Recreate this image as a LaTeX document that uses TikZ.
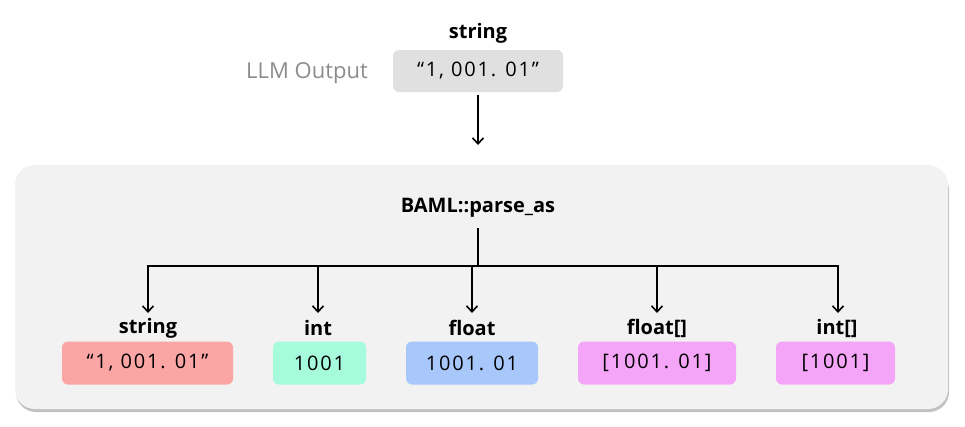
\documentclass[tikz,border=0pt]{standalone}
\usepackage{fontspec}
\setmainfont{Open Sans}
\newfontfamily\codefont[LetterSpace=9]{Open Sans}
\usetikzlibrary{arrows.meta,shadows}
\definecolor{panelbg}{HTML}{F2F2F2}
\definecolor{topbox}{HTML}{E0E0E0}
\definecolor{redbox}{HTML}{FCA5A5}
\definecolor{greenbox}{HTML}{A7FBDD}
\definecolor{bluebox}{HTML}{A8C8FC}
\definecolor{pinkbox}{HTML}{F5A5F8}
\definecolor{graytext}{HTML}{8C8C8C}
\tikzset{
  valbox/.style={rounded corners=6pt, inner sep=0pt, font=\codefont\fontsize{20}{22}\selectfont},
  typelabel/.style={font=\fontsize{20}{22}\selectfont\bfseries, inner sep=0pt},
  conn/.style={line width=1.6pt, -{Straight Barb[length=6pt,width=11pt,line width=1.6pt]}},
  plain/.style={line width=1.6pt}
}
\begin{document}
\begin{tikzpicture}[x=1pt,y=-1pt]
\useasboundingbox (0,0) rectangle (965,426);
% panel
\fill[black!24, rounded corners=20pt] (16,170) rectangle (949,412);
\fill[panelbg, rounded corners=20pt] (15,165) rectangle (948,409);
% top
\node[typelabel] (toplbl) at (478,33) {string};
\node[valbox, fill=topbox, minimum width=170pt, minimum height=42pt] (top) at (478,71) {“1, 001. 01”};
\node[font=\fontsize{22}{24}\selectfont, text=graytext, inner sep=0pt] (llm) at (307,73) {LLM Output};
\node[font=\fontsize{20}{22}\selectfont\bfseries, inner sep=0pt] (baml) at (478,208) {BAML::parse\_as};
\draw[conn] (top.south) ++(0,3) coordinate (ts) -- (478,145) coordinate (te);
% boxes
\node[valbox, fill=redbox, minimum width=171pt, minimum height=43pt] (b1) at (147.5,363) {“1, 001. 01”};
\node[valbox, fill=greenbox, minimum width=93pt, minimum height=43pt] (b2) at (319.5,363) {1001};
\node[valbox, fill=bluebox, minimum width=132pt, minimum height=43pt] (b3) at (472,363) {1001. 01};
\node[valbox, fill=pinkbox, minimum width=158pt, minimum height=43pt] (b4) at (657,363) {[1001. 01]};
\node[valbox, fill=pinkbox, minimum width=119pt, minimum height=43pt] (b5) at (835.5,363) {[1001]};
\node[typelabel] (l1) at (148,328) {string};
\node[typelabel] (l2) at (318,328) {int};
\node[typelabel] (l3) at (472,328) {float};
\node[typelabel] (l4) at (657,328) {float[]};
\node[typelabel] (l5) at (837,328) {int[]};
% tree
\coordinate (hub) at (478,266);
\draw[plain] (478,228) -- (hub);
\draw[plain] (148,266) -- (838,266);
\draw[conn] (148,265.2) -- (148,313);
\draw[conn] (318,265.2) -- (318,313);
\draw[conn] (472,265.2) -- (472,313);
\draw[conn] (657,265.2) -- (657,313);
\draw[conn] (838,265.2) -- (838,313);
\end{tikzpicture}
\end{document}
